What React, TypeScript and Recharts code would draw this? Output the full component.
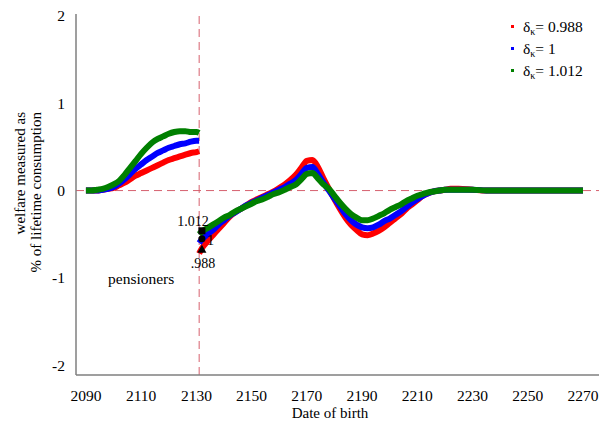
import React from "react";
import {
  ComposedChart,
  Line,
  Scatter,
  XAxis,
  YAxis,
  ReferenceLine,
} from "recharts";

const FONT = '"Liberation Serif", "Times New Roman", serif';

// cohorts born before the reform (pensioners side)
const leftYears = [
  2090, 2092, 2094, 2096, 2098, 2100, 2102, 2104, 2106, 2108, 2110, 2112,
  2114, 2116, 2118, 2120, 2122, 2124, 2126, 2128, 2130, 2131,
];
const leftRed = [
  0, 0, 0, 0.01, 0.02, 0.03, 0.06, 0.09, 0.13, 0.17, 0.2, 0.23, 0.26, 0.29,
  0.32, 0.35, 0.37, 0.39, 0.41, 0.43, 0.44, 0.45,
];
const leftBlue = [
  0, 0, 0, 0.01, 0.02, 0.04, 0.08, 0.13, 0.19, 0.25, 0.3, 0.35, 0.39, 0.43,
  0.46, 0.49, 0.51, 0.53, 0.54, 0.56, 0.57, 0.57,
];
const leftGreen = [
  0, 0, 0.01, 0.02, 0.04, 0.07, 0.11, 0.18, 0.26, 0.34, 0.42, 0.49, 0.55, 0.59,
  0.62, 0.65, 0.67, 0.68, 0.68, 0.67, 0.67, 0.66,
];

// cohorts born after the reform
const rightYears = [
  2131, 2132, 2134, 2136, 2138, 2140, 2142, 2144, 2146, 2148, 2150, 2152,
  2154, 2156, 2158, 2160, 2162, 2164, 2166, 2168, 2170, 2172, 2174, 2176,
  2178, 2180, 2182, 2184, 2186, 2188, 2190, 2192, 2194, 2196, 2198, 2200,
  2202, 2204, 2206, 2208, 2210, 2212, 2214, 2216, 2218, 2220, 2222, 2225,
  2230, 2235, 2240, 2245, 2250, 2255, 2260, 2265, 2270,
];
const rightRed = [
  -0.72, -0.66, -0.58, -0.51, -0.44, -0.37, -0.3, -0.25, -0.21, -0.17, -0.13,
  -0.1, -0.07, -0.04, -0.01, 0.03, 0.07, 0.12, 0.18, 0.26, 0.34, 0.35, 0.27,
  0.14, 0.02, -0.1, -0.21, -0.31, -0.39, -0.45, -0.5, -0.51, -0.49, -0.46,
  -0.42, -0.37, -0.32, -0.27, -0.21, -0.16, -0.11, -0.06, -0.03, -0.01, 0,
  0.01, 0.02, 0.02, 0.01, 0, 0, 0, 0, 0, 0, 0, 0,
];
const rightBlue = [
  -0.6, -0.56, -0.5, -0.45, -0.39, -0.34, -0.29, -0.25, -0.21, -0.17, -0.14,
  -0.11, -0.08, -0.05, -0.02, 0.01, 0.04, 0.08, 0.12, 0.19, 0.26, 0.27, 0.19,
  0.09, 0, -0.09, -0.18, -0.27, -0.34, -0.39, -0.42, -0.43, -0.42, -0.39,
  -0.35, -0.32, -0.28, -0.24, -0.19, -0.14, -0.1, -0.06, -0.03, -0.01, 0,
  0.01, 0.01, 0.01, 0.01, 0, 0, 0, 0, 0, 0, 0, 0,
];
const rightGreen = [
  -0.5, -0.47, -0.43, -0.39, -0.35, -0.31, -0.28, -0.24, -0.21, -0.18, -0.15,
  -0.12, -0.1, -0.07, -0.04, -0.02, 0.01, 0.04, 0.07, 0.13, 0.19, 0.2, 0.14,
  0.07, 0.02, -0.06, -0.14, -0.21, -0.27, -0.31, -0.34, -0.34, -0.32, -0.29,
  -0.26, -0.22, -0.19, -0.16, -0.12, -0.09, -0.06, -0.04, -0.02, -0.01, 0,
  0.01, 0.01, 0.01, 0.01, 0, 0, 0, 0, 0, 0, 0, 0,
];

// pensioners' welfare at the reform date
const markerYear = 2132;
const markerValues = [-0.46, -0.55, -0.67];
const markerLabels = ["1.012", "1", ".988"];

const legendLabels = ["0.988", "1", "1.012"];
const xTicks = [2090, 2110, 2130, 2150, 2170, 2190, 2210, 2230, 2250, 2270];
const yTicks = [-2, -1, 0, 1, 2];
const reformYear = 2131;

const SERIES = [
  { key: "red", color: "#ff0000" },
  { key: "blue", color: "#0000ff" },
  { key: "green", color: "#008000" },
];

const leftData = leftYears.map((year, i) => ({
  year,
  red: leftRed[i],
  blue: leftBlue[i],
  green: leftGreen[i],
}));
const rightData = rightYears.map((year, i) => ({
  year,
  red: rightRed[i],
  blue: rightBlue[i],
  green: rightGreen[i],
}));
const markerData = markerValues.map((value, i) => ({
  year: markerYear,
  value,
  label: markerLabels[i],
}));

const DASH = "#d6606e";
const textStyle = { fontFamily: FONT };

const renderMarker = (props: any) => {
  const { cx, cy, payload, index } = props;
  if (cx == null || cy == null) return <g />;
  const i = index ?? markerLabels.indexOf(payload.label);
  let glyph;
  let tx = cx;
  let ty = cy;
  let anchor: "start" | "middle" = "middle";
  if (i === 0) {
    glyph = <rect x={cx - 3.5} y={cy - 3.5} width={7} height={7} fill="#000" />;
    tx = cx - 9;
    ty = cy - 5;
  } else if (i === 1) {
    glyph = <circle cx={cx} cy={cy} r={3.5} fill="#000" />;
    tx = cx + 5;
    ty = cy + 6;
    anchor = "start";
  } else {
    glyph = (
      <polygon
        points={`${cx},${cy - 4.5} ${cx + 4.5},${cy + 3.5} ${cx - 4.5},${cy + 3.5}`}
        fill="#000"
      />
    );
    tx = cx + 1;
    ty = cy + 19;
  }
  return (
    <g>
      {glyph}
      <text
        x={tx}
        y={ty}
        textAnchor={anchor}
        fontSize={14}
        style={textStyle}
        fill="#000"
      >
        {payload.label}
      </text>
    </g>
  );
};

export default function App() {
  return (
    <div
      style={{
        position: "absolute",
        left: 0,
        top: 0,
        width: 610,
        height: 427,
        background: "#fff",
        fontFamily: FONT,
      }}
    >
      <ComposedChart
        width={610}
        height={427}
        margin={{ top: 14, right: 11, bottom: 22, left: 36 }}
        style={textStyle}
      >
        <XAxis
          type="number"
          dataKey="year"
          domain={[2086.4, 2275.8]}
          ticks={xTicks}
          allowDataOverflow
          tickLine={false}
          tickMargin={9}
          height={30}
          stroke="#7f7f7f"
          strokeWidth={1.5}
          tick={{ fill: "#000", fontSize: 15.5, style: textStyle }}
        />
        <YAxis
          type="number"
          domain={[-2.11, 2.02]}
          ticks={yTicks}
          allowDataOverflow
          tickLine={false}
          tickMargin={5}
          width={40}
          stroke="#7f7f7f"
          strokeWidth={1.5}
          tick={{ fill: "#000", fontSize: 15.5, style: textStyle }}
        />
        <ReferenceLine y={0} stroke={DASH} strokeDasharray="8 5" />
        <ReferenceLine x={reformYear} stroke={DASH} strokeDasharray="8 5" />
        {SERIES.map((s) => (
          <Line
            key={`l-${s.key}`}
            data={leftData}
            dataKey={s.key}
            type="monotone"
            stroke={s.color}
            strokeWidth={6}
            dot={false}
            isAnimationActive={false}
          />
        ))}
        {SERIES.map((s) => (
          <Line
            key={`r-${s.key}`}
            data={rightData}
            dataKey={s.key}
            type="monotone"
            stroke={s.color}
            strokeWidth={6}
            dot={false}
            isAnimationActive={false}
          />
        ))}
        <Scatter
          data={markerData}
          dataKey="value"
          shape={renderMarker}
          isAnimationActive={false}
        />
      </ComposedChart>
      <svg
        width={610}
        height={427}
        style={{ position: "absolute", left: 0, top: 0, pointerEvents: "none", fontFamily: FONT }}
      >
        <text
          transform="translate(25,112) rotate(-90)"
          textAnchor="end"
          fontSize={15}
          fill="#000"
          style={textStyle}
        >
          welfare measured as
        </text>
        <text
          transform="translate(41,112) rotate(-90)"
          textAnchor="end"
          fontSize={15}
          fill="#000"
          style={textStyle}
        >
          % of lifetime consumption
        </text>
        <text x={330} y={418} textAnchor="middle" fontSize={15} fill="#000" style={textStyle}>
          Date of birth
        </text>
        <text x={108} y={284} fontSize={15.5} fill="#000" style={textStyle}>
          pensioners
        </text>
        {SERIES.map((s, i) => (
          <g key={`lg-${s.key}`}>
            <rect x={511} y={25 + i * 22} width={3} height={3} fill={s.color} />
            <text x={523} y={32 + i * 22} fontSize={15.5} fill="#000" style={textStyle}>
              δ
              <tspan dy={3} fontSize={10}>
                κ
              </tspan>
              <tspan dy={-3}>= {legendLabels[i]}</tspan>
            </text>
          </g>
        ))}
      </svg>
    </div>
  );
}
